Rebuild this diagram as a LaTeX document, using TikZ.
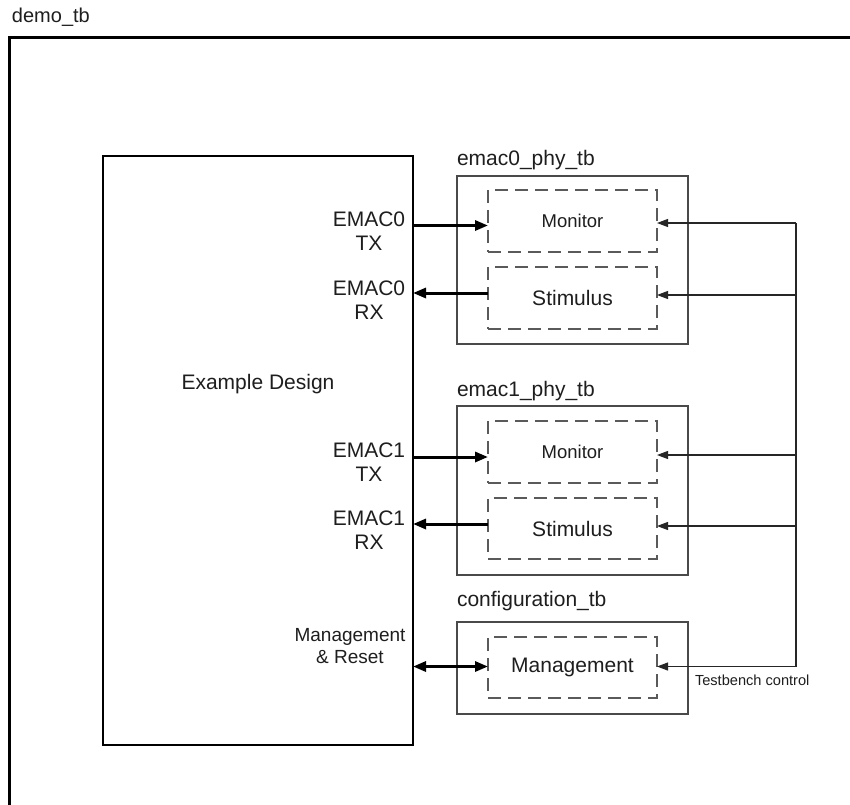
\documentclass[tikz,border=0pt]{standalone}
\usepackage{fontspec}
\setmainfont{Liberation Sans}
\usetikzlibrary{arrows.meta}
\definecolor{txt}{HTML}{1E1E1E}
\definecolor{boxgray}{HTML}{4A4A4A}
\definecolor{dashgray}{HTML}{5A5A5A}
\newcommand{\fsz}[1]{\fontsize{#1}{#1}\selectfont}
\begin{document}
\begin{tikzpicture}[x=1pt,y=-1pt,
  tbbox/.style={draw=boxgray, line width=1.3pt, inner sep=0pt, outer sep=0pt},
  exbox/.style={draw=black, line width=2pt, inner sep=0pt, outer sep=0pt},
  dbox/.style={draw=dashgray, line width=1.2pt, dash pattern=on 13pt off 7pt, inner sep=0pt, outer sep=0pt, text=txt, minimum width=169pt},
  lbl/.style={text=txt, inner sep=0pt, outer sep=0pt},
  big/.style={draw=black, line width=3pt, -{Triangle[length=13pt,width=10pt]}},
  bigboth/.style={draw=black, line width=3pt, {Triangle[length=13pt,width=10pt]}-{Triangle[length=13pt,width=10pt]}},
  ctrl/.style={draw=black!85, line width=1.1pt, -{Triangle[length=11pt,width=8pt]}},
  wire/.style={draw=black!85, line width=1.1pt}
]
\useasboundingbox (0,0) rectangle (850,804);
\fill[white] (0,0) rectangle (850,804);

% outer frame (extends beyond the picture)
\coordinate (otl) at (9.5,37.5);
\coordinate (obl) at (9.5,812);
\coordinate (otr) at (858,37.5);
\draw[line width=2.2pt, black] (obl) -- (otl) -- (otr);
\node[lbl, anchor=base west, font=\fsz{20}] (demo) at (12,22) {demo\_tb};

% example design
\node[exbox, minimum width=310pt, minimum height=589pt] (ex) at (258,450.5) {};
\node[lbl, font=\fsz{21}] (exl) at (258,384) {Example Design};

% emac0_phy_tb
\node[lbl, anchor=base west, font=\fsz{21}] (e0l) at (457,165) {emac0\_phy\_tb};
\node[tbbox, minimum width=231pt, minimum height=168pt] (e0) at (572.5,260) {};
\node[dbox, minimum height=62pt, font=\fsz{18.5}] (mon0) at (572.5,221) {Monitor};
\node[dbox, minimum height=62pt, font=\fsz{21}] (sti0) at (572.5,298) {Stimulus};

% emac1_phy_tb
\node[lbl, anchor=base west, font=\fsz{21}] (e1l) at (457,396) {emac1\_phy\_tb};
\node[tbbox, minimum width=231pt, minimum height=169pt] (e1) at (572.5,490.5) {};
\node[dbox, minimum height=62pt, font=\fsz{18.5}] (mon1) at (572.5,452) {Monitor};
\node[dbox, minimum height=61pt, font=\fsz{21}] (sti1) at (572.5,528.5) {Stimulus};

% configuration_tb
\node[lbl, anchor=base west, font=\fsz{21}] (cfl) at (457,606) {configuration\_tb};
\node[tbbox, minimum width=231pt, minimum height=92pt] (cf) at (572.5,668) {};
\node[dbox, minimum height=61pt, font=\fsz{21}] (mg) at (572.5,667.5) {Management};

% port labels
\node[lbl, align=center, font=\fsz{21}] (tx0l) at (369,231) {EMAC0\\[3pt]TX};
\node[lbl, align=center, font=\fsz{21}] (rx0l) at (369,300) {EMAC0\\[3pt]RX};
\node[lbl, align=center, font=\fsz{21}] (tx1l) at (369,462) {EMAC1\\[3pt]TX};
\node[lbl, align=center, font=\fsz{21}] (rx1l) at (369,530.5) {EMAC1\\[3pt]RX};
\node[lbl, align=center, font=\fsz{19}] (mgl) at (350,646) {Management\\[3pt]\& Reset};

% data arrows
\coordinate (ytx0) at (0,225.5);
\coordinate (yrx0) at (0,293);
\coordinate (ytx1) at (0,457);
\coordinate (yrx1) at (0,524);
\coordinate (ymg) at (0,666.5);
\draw[big] (ex.east |- ytx0) -- (mon0.west |- ytx0);
\draw[big] (sti0.west |- yrx0) -- (ex.east |- yrx0);
\draw[big] (ex.east |- ytx1) -- (mon1.west |- ytx1);
\draw[big] (sti1.west |- yrx1) -- (ex.east |- yrx1);
\draw[bigboth] (ex.east |- ymg) -- (mg.west |- ymg);

% testbench control
\coordinate (c1) at (796,223);
\coordinate (c2) at (796,295);
\coordinate (c3) at (796,455);
\coordinate (c4) at (796,526);
\coordinate (c5) at (796,666.5);
\draw[wire] (c1) -- (c5);
\draw[ctrl] (c1) -- (mon0.east |- c1);
\draw[ctrl] (c2) -- (sti0.east |- c2);
\draw[ctrl] (c3) -- (mon1.east |- c3);
\draw[ctrl] (c4) -- (sti1.east |- c4);
\draw[ctrl] (c5) -- (mg.east |- c5);
\node[lbl, anchor=base west, font=\fsz{14.6}] (tbc) at (695,685) {Testbench control};
\end{tikzpicture}
\end{document}
